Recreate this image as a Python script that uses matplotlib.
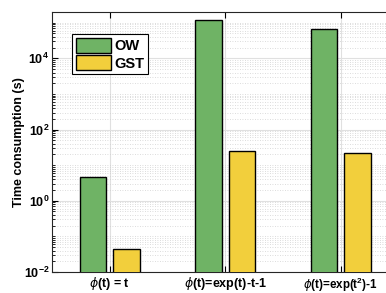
import matplotlib.pyplot as plt
import numpy as np
from matplotlib.ticker import FixedLocator, FuncFormatter, NullFormatter

plt.rcParams['font.family'] = ['Liberation Sans', 'DejaVu Sans']
plt.rcParams['mathtext.fontset'] = 'custom'
plt.rcParams['mathtext.rm'] = 'Liberation Sans:bold'
plt.rcParams['mathtext.bf'] = 'Liberation Sans:bold'
plt.rcParams['mathtext.it'] = 'DejaVu Sans:italic'

# data (log scale)
categories = [r'$\phi$(t) = t', r'$\phi$(t)=exp(t)-t-1', r'$\phi$(t)=exp(t$^{2}$)-1']
ow_times = [4.6, 1.22e5, 6.5e4]
gst_times = [0.045, 24.3, 22.3]

fig = plt.figure(figsize=(3.86, 2.93), dpi=100)
ax = fig.add_axes([0.1347, 0.0717, 0.898, 0.8873])

x = np.arange(1, len(categories) + 1)
w = 0.23
ax.bar(x - 0.145, ow_times, w, color='#6fb365', edgecolor='black', linewidth=1.0, label='OW', zorder=3)
ax.bar(x + 0.145, gst_times, w, color='#f2cf3c', edgecolor='black', linewidth=1.0, label='GST', zorder=3)

ax.set_yscale('log')
ax.set_ylim(1e-2, 2e5)
ax.set_xlim(0.5, 3.5)

# major ticks every two decades, minor everywhere else
majors = [1e-2, 1e0, 1e2, 1e4]
minors = [s * 10.0 ** k for k in range(-2, 6) for s in range(1, 10)
          if s * 10.0 ** k not in majors and s * 10.0 ** k <= 2e5]
ax.yaxis.set_major_locator(FixedLocator(majors))
ax.yaxis.set_minor_locator(FixedLocator(minors))
ax.yaxis.set_minor_formatter(NullFormatter())
ax.yaxis.set_major_formatter(FuncFormatter(lambda v, p: r'$\mathbf{10^{%d}}$' % round(np.log10(v))))

ax.set_xticks(x)
ax.set_xticklabels(categories, fontsize=9, fontweight='bold')
ax.get_xticklabels()[-1].set_fontsize(8.4)
ax.tick_params(axis='y', which='major', labelsize=9, direction='in', length=4, width=0.8, pad=2)
ax.tick_params(axis='y', which='minor', direction='in', length=2, width=0.6)
ax.tick_params(axis='x', direction='in', length=4, width=0.8, top=True, pad=2.5)

ax.grid(True, which='major', color='#e0e0e0', linewidth=0.8, zorder=0)
ax.grid(True, which='minor', axis='y', color='#d0d0d0', linestyle=(0, (1, 2)), linewidth=0.6, zorder=0)
ax.set_axisbelow(True)
for s in ax.spines.values():
    s.set_linewidth(0.8)
    s.set_color('#262626')

ax.set_ylabel('Time consumption (s)', fontsize=9, fontweight='bold', labelpad=-1)

leg = ax.legend(loc='upper left', bbox_to_anchor=(0.058, 0.915), prop={'weight': 'bold', 'size': 10.5},
                fancybox=False, edgecolor='black', framealpha=1, handlelength=2.4, handleheight=1.2,
                handletextpad=0.25, borderpad=0.25, labelspacing=0.15, borderaxespad=0)
leg.get_frame().set_linewidth(0.8)

fig.savefig('out.png', dpi=100)
